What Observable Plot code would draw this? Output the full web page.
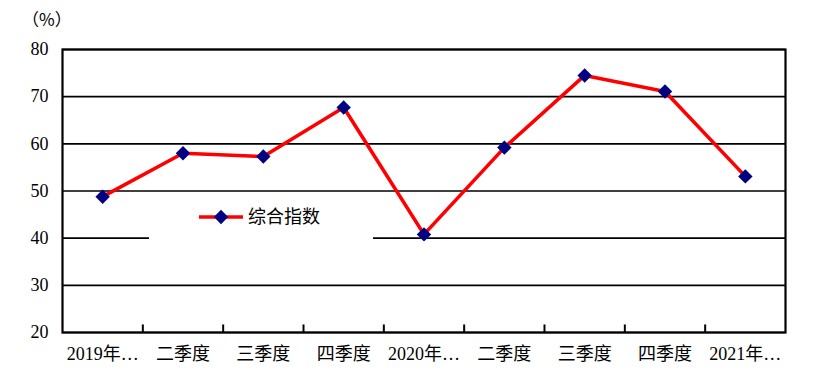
<!DOCTYPE html>
<html>
<head>
<meta charset="utf-8">
<script src="https://cdn.jsdelivr.net/npm/d3@7"></script>
<script src="https://cdn.jsdelivr.net/npm/@observablehq/plot@0.6"></script>
<style>
  html, body { margin: 0; padding: 0; background: #fff; }
  #chart { position: relative; width: 815px; height: 387px; }
  #chart svg text { font-family: 'Liberation Serif', 'Noto Sans CJK SC', serif; font-size: 18px; fill: #000; }
  #chart svg text.unit { font-family: 'Noto Sans CJK SC', sans-serif; font-size: 17px; }
</style>
</head>
<body>
<div id="chart"></div>
<script>
const categories = ["2019年…", "二季度", "三季度", "四季度", "2020年…", "二季度", "三季度", "四季度", "2021年…"];
const values = [48.8, 58.0, 57.3, 67.7, 40.8, 59.2, 74.5, 71.1, 53.1];
const yTicks = [20, 30, 40, 50, 60, 70, 80];
const seriesName = "综合指数";
const unitLabel = "（%）";

const data = categories.map((c, i) => ({i, c, v: values[i]}));
const boundaries = categories.slice(1).map((_, i) => i + 0.5);

const plot = Plot.plot({
  width: 815,
  height: 387,
  marginLeft: 62,
  marginRight: 30,
  marginTop: 49,
  marginBottom: 55,
  style: {background: "#fff"},
  x: {type: "linear", domain: [-0.5, categories.length - 0.5]},
  y: {domain: [20, 80]},
  marks: [
    Plot.gridY(yTicks, {stroke: "#000", strokeOpacity: 1, strokeWidth: 1.6}),
    Plot.ruleX(boundaries, {y1: 20, y2: 21.6, stroke: "#000", strokeWidth: 2}),
    Plot.frame({stroke: "#000", strokeWidth: 2.2}),
    Plot.axisY(yTicks, {tickSize: 0, tickPadding: 14, label: null}),
    Plot.axisX(d3.range(categories.length), {tickSize: 0, tickPadding: 15, label: null, tickFormat: d => categories[d]}),
    Plot.line(data, {x: "i", y: "v", stroke: "#ff0000", strokeWidth: 3.6}),
    Plot.dot(data, {x: "i", y: "v", symbol: "diamond2", r: 6.5, fill: "#000080", stroke: "none"})
  ]
});

document.getElementById("chart").appendChild(plot);

const svg = d3.select(plot);
// unit label above the y axis
svg.append("text").attr("class", "unit").attr("x", 22).attr("y", 20).attr("dy", "0.35em")
  .attr("text-anchor", "start").text(unitLabel);

// Legend inside the plot area (white box covering the grid)
const lg = svg.append("g");
lg.append("rect").attr("x", 149).attr("y", 198).attr("width", 224).attr("height", 43).attr("fill", "#fff");
lg.append("line").attr("x1", 199).attr("x2", 243).attr("y1", 217).attr("y2", 217)
  .attr("stroke", "#ff0000").attr("stroke-width", 3.6);
lg.append("path").attr("d", d3.symbol(d3.symbolDiamond2, 130)()).attr("transform", "translate(221,217)")
  .attr("fill", "#000080");
lg.append("text").attr("x", 248).attr("y", 217).attr("dy", "0.35em")
  .attr("text-anchor", "start").text(seriesName);
</script>
</body>
</html>
